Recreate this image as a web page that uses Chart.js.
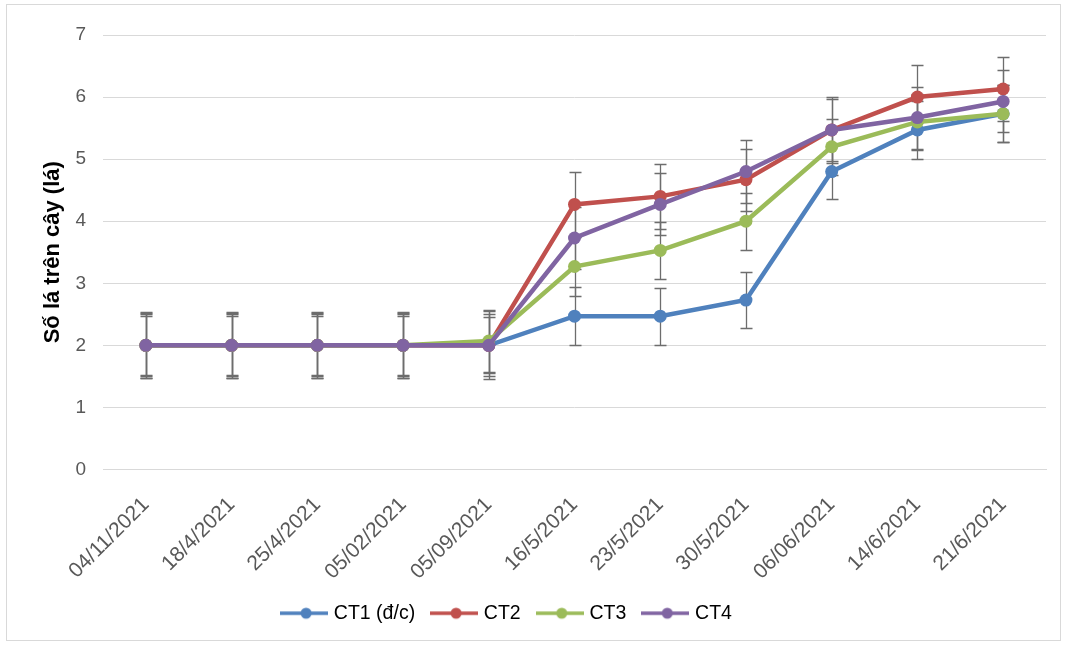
<!DOCTYPE html>
<html>
<head>
<meta charset="utf-8">
<script src="https://cdn.jsdelivr.net/npm/chart.js@4/dist/chart.umd.min.js"></script>
<style>
  html, body { margin: 0; padding: 0; background: #fff; }
  #wrap { position: relative; width: 1065px; height: 648px; }
  #khung { position: absolute; left: 6px; top: 4px; width: 1053px; height: 635px; border: 1px solid #d9d9d9; }
  canvas { position: absolute; left: 0; top: 0; }
</style>
</head>
<body>
<div id="wrap">
  <div id="khung"></div>
  <canvas id="bieuDo" width="1065" height="648"></canvas>
</div>
<script>
// Ngày theo dõi
const ngay = ['04/11/2021', '18/4/2021', '25/4/2021', '05/02/2021', '05/09/2021', '16/5/2021',
  '23/5/2021', '30/5/2021', '06/06/2021', '14/6/2021', '21/6/2021'];

// Số lá trung bình
const ct1 = [2, 2, 2, 2, 2, 2.47, 2.47, 2.73, 4.8, 5.47, 5.73];
const ct2 = [2, 2, 2, 2, 2, 4.27, 4.4, 4.67, 5.47, 6.0, 6.13];
const ct3 = [2, 2, 2, 2, 2.07, 3.27, 3.53, 4.0, 5.2, 5.6, 5.73];
const ct4 = [2, 2, 2, 2, 2, 3.73, 4.27, 4.8, 5.47, 5.67, 5.93];

// Sai số
const ct1Err = [0.5, 0.5, 0.5, 0.5, 0.5, 0.47, 0.46, 0.45, 0.45, 0.47, 0.46];
const ct2Err = [0.52, 0.52, 0.52, 0.52, 0.55, 0.53, 0.52, 0.5, 0.53, 0.51, 0.51];
const ct3Err = [0.48, 0.48, 0.48, 0.48, 0.5, 0.47, 0.46, 0.46, 0.45, 0.45, 0.46];
const ct4Err = [0.53, 0.53, 0.53, 0.53, 0.45, 0.5, 0.5, 0.51, 0.5, 0.5, 0.5];

const tenCT = ['CT1 (đ/c)', 'CT2', 'CT3', 'CT4'];
const mau = ['#4F81BD', '#C0504D', '#9BBB59', '#8064A2'];
const yTicks = [0, 1, 2, 3, 4, 5, 6, 7];

const giaTri = [ct1, ct2, ct3, ct4];
const saiSo = [ct1Err, ct2Err, ct3Err, ct4Err];

const FONT = 'Liberation Sans, Arial, sans-serif';

// ký hiệu chú giải: đường có chấm tròn
function kyHieu(color) {
  const c = document.createElement('canvas');
  c.width = 48; c.height = 14;
  const g = c.getContext('2d');
  g.strokeStyle = color; g.lineWidth = 3.5;
  g.beginPath(); g.moveTo(0, 7); g.lineTo(48, 7); g.stroke();
  g.fillStyle = color;
  g.beginPath(); g.arc(26, 7, 5.5, 0, Math.PI * 2); g.fill();
  return c;
}

// vẽ thanh sai số
const thanhSaiSo = {
  id: 'thanhSaiSo',
  beforeDatasetsDraw(chart) {
    const ctx = chart.ctx;
    const y = chart.scales.y;
    ctx.save();
    ctx.strokeStyle = '#6d6d6d';
    ctx.lineWidth = 1.3;
    chart.data.datasets.forEach((ds, i) => {
      const meta = chart.getDatasetMeta(i);
      meta.data.forEach((pt, j) => {
        const v = ds.data[j], e = saiSo[i][j];
        const y1 = Math.round(y.getPixelForValue(v + e)) + 0.5;
        const y2 = Math.round(y.getPixelForValue(v - e)) + 0.5;
        const x = Math.round(pt.x) + 0.5;
        ctx.beginPath();
        ctx.moveTo(x, y1); ctx.lineTo(x, y2);
        ctx.moveTo(x - 6, y1); ctx.lineTo(x + 6, y1);
        ctx.moveTo(x - 6, y2); ctx.lineTo(x + 6, y2);
        ctx.stroke();
      });
    });
    ctx.restore();
  }
};

// dịch chú giải sang trái một chút cho giống bản gốc
const dichChuGiai = {
  id: 'dichChuGiai',
  afterLayout(chart) {
    if (chart.legend) {
      chart.legend.left -= 70;
    }
  }
};

const ctx = document.getElementById('bieuDo').getContext('2d');
new Chart(ctx, {
  type: 'line',
  data: {
    labels: ngay,
    datasets: giaTri.map((d, i) => ({
      label: tenCT[i],
      data: d,
      borderColor: mau[i],
      backgroundColor: mau[i],
      borderWidth: 4.5,
      pointRadius: 6.5,
      pointHoverRadius: 6.5,
      pointBorderWidth: 0,
      tension: 0,
      order: 4 - i
    }))
  },
  options: {
    responsive: false,
    animation: false,
    layout: { padding: { left: 40, right: 19, top: 35, bottom: 15 } },
    plugins: {
      tooltip: { enabled: false },
      legend: {
        position: 'bottom',
        labels: {
          usePointStyle: true,
          pointStyleWidth: 40,
          padding: 19,
          color: '#000',
          font: { family: FONT, size: 19.5 },
          generateLabels(chart) {
            return chart.data.datasets.map((ds, i) => ({
              text: ds.label,
              pointStyle: kyHieu(mau[i]),
              fillStyle: mau[i],
              strokeStyle: mau[i],
              lineWidth: 0,
              fontColor: '#000',
              datasetIndex: i,
              hidden: false
            }));
          }
        }
      }
    },
    scales: {
      x: {
        offset: true,
        grid: { display: false },
        border: { display: true, color: '#d9d9d9' },
        ticks: {
          color: '#595959',
          padding: 15,
          maxRotation: 45, minRotation: 45,
          font: { family: FONT, size: 21 }
        },
        afterFit(scale) { scale.height = 115; }
      },
      y: {
        min: 0, max: 7,
        afterBuildTicks(scale) { scale.ticks = yTicks.map(v => ({ value: v })); },
        grid: { color: '#d9d9d9', drawTicks: false },
        border: { display: false },
        ticks: {
          color: '#595959',
          padding: 17,
          font: { family: FONT, size: 19 }
        },
        title: {
          display: true,
          text: 'Số lá trên cây (lá)',
          color: '#000',
          padding: { top: 0, bottom: 0 },
          font: { family: FONT, size: 22, weight: 'bold' }
        },
        afterFit(scale) { scale.width = 63; }
      }
    }
  },
  plugins: [thanhSaiSo, dichChuGiai]
});
</script>
</body>
</html>
